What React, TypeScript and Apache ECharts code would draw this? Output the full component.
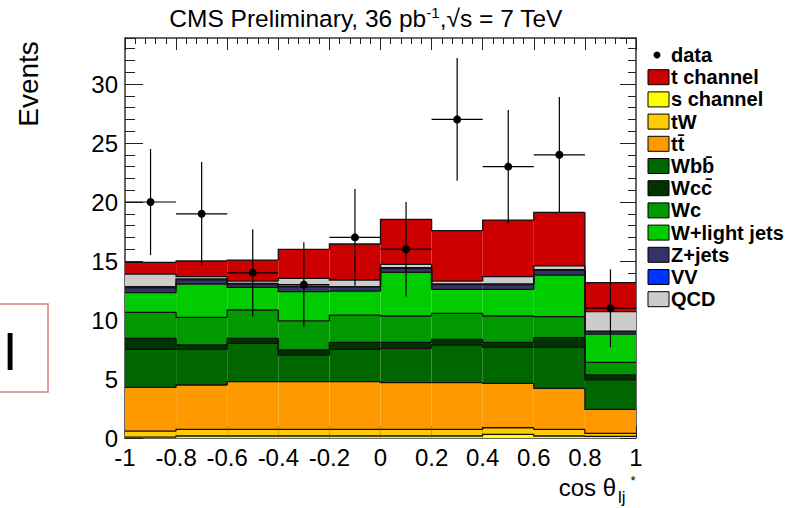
import React, { useEffect, useRef } from 'react';
import * as echarts from 'echarts';

// ---- data ----
const binEdges = [-1, -0.8, -0.6, -0.4, -0.2, 0, 0.2, 0.4, 0.6, 0.8, 1];
const dataValues = [20, 19, 14, 13, 17, 16, 27, 23, 24, 11];
const dataErrors = [4.5, 4.4, 3.7, 3.6, 4.1, 4.0, 5.2, 4.8, 4.9, 3.3];

// stack order: bottom to top
const sChannel = [0.08, 0.17, 0.17, 0.17, 0.17, 0.17, 0.17, 0.3, 0.17, 0.13];
const tW = [0.51, 0.56, 0.56, 0.56, 0.56, 0.56, 0.56, 0.57, 0.56, 0.27];
const ttbar = [3.7, 3.76, 4.04, 4.04, 4.04, 3.96, 3.96, 3.76, 3.48, 2.03];
const wbb = [3.22, 3.02, 3.25, 2.26, 2.74, 2.91, 3.19, 3.05, 3.47, 2.49];
const wcc = [0.94, 0.37, 0.43, 0.43, 0.6, 0.51, 0.48, 0.43, 0.82, 0.42];
const wc = [2.2, 2.35, 2.4, 2.46, 2.31, 2.23, 2.2, 2.23, 1.78, 1.07];
const wLight = [1.67, 2.82, 1.92, 2.48, 2.02, 3.7, 2.04, 2.26, 3.53, 2.4];
const zJets = [0.4, 0.35, 0.28, 0.42, 0.34, 0.34, 0.4, 0.4, 0.4, 0.2];
const vv = [0.1, 0.08, 0.05, 0.05, 0.05, 0.05, 0.05, 0.05, 0.05, 0.05];
const qcd = [1.08, 0.19, 0.2, 0.66, 0.56, 0.29, 0.25, 0.62, 0.34, 1.65];
const tChannel = [0.99, 1.33, 1.78, 2.46, 3.05, 3.81, 4.27, 4.8, 4.52, 2.45];

const stackNames = ['s channel', 'tW', 'tt\u0304', 'Wbb\u0304', 'Wcc\u0304', 'Wc', 'W+light jets', 'Z+jets', 'VV', 'QCD', 't channel'];
const stackValues = [sChannel, tW, ttbar, wbb, wcc, wc, wLight, zJets, vv, qcd, tChannel];
const stackColors = ['#ffff00', '#ffcc00', '#ff9900', '#006600', '#003300', '#009900', '#00cc00', '#333366', '#0033ff', '#cccccc', '#cc0000'];

const legendNames = ['data', 't channel', 's channel', 'tW', 'tt\u0304', 'Wbb\u0304', 'Wcc\u0304', 'Wc', 'W+light jets', 'Z+jets', 'VV', 'QCD'];

const FONT = '"Liberation Sans", Arial, Helvetica, sans-serif';

function buildOption() {
  const nb = dataValues.length;
  const cum: number[][] = [];
  let base = new Array(nb).fill(0);
  stackValues.forEach((vals) => {
    const top = vals.map((v, i) => base[i] + v);
    cum.push(top);
    base = top;
  });

  const series: any[] = [];
  stackValues.forEach((vals, k) => {
    const lo = k === 0 ? new Array(nb).fill(0) : cum[k - 1];
    const hi = cum[k];
    const items = hi.map((h, i) => [binEdges[i], binEdges[i + 1], lo[i], h, i === 0 ? h : hi[i - 1]]);
    const color = stackColors[k];
    series.push({
      type: 'custom',
      name: stackNames[k],
      z: 2,
      data: items,
      renderItem: (_p: any, api: any) => {
        const a = api.coord([api.value(0), api.value(3)]);
        const b = api.coord([api.value(1), api.value(2)]);
        return {
          type: 'rect',
          shape: { x: a[0], y: a[1], width: b[0] - a[0], height: b[1] - a[1] },
          style: { fill: color },
        };
      },
    });
    series.push({
      type: 'custom',
      name: stackNames[k] + ' outline',
      z: 3,
      data: items,
      renderItem: (_p: any, api: any) => {
        const a = api.coord([api.value(0), api.value(3)]);
        const b = api.coord([api.value(1), api.value(3)]);
        const pv = api.coord([api.value(0), api.value(4)]);
        return {
          type: 'polyline',
          shape: { points: [[pv[0], pv[1]], [a[0], a[1]], [b[0], b[1]]] },
          style: { stroke: '#111', lineWidth: 1.3, fill: null },
        };
      },
    });
  });

  const dataItems = dataValues.map((v, i) => [
    (binEdges[i] + binEdges[i + 1]) / 2,
    v,
    dataErrors[i],
    (binEdges[i + 1] - binEdges[i]) / 2,
  ]);
  series.push({
    type: 'custom',
    name: 'data',
    z: 5,
    data: dataItems,
    renderItem: (_p: any, api: any) => {
      const x = api.value(0), y = api.value(1), e = api.value(2), hw = api.value(3);
      const c = api.coord([x, y]);
      const l = api.coord([x - hw, y]);
      const r = api.coord([x + hw, y]);
      const t = api.coord([x, y + e]);
      const bt = api.coord([x, y - e]);
      return {
        type: 'group',
        children: [
          { type: 'line', shape: { x1: l[0], y1: l[1], x2: r[0], y2: r[1] }, style: { stroke: '#000', lineWidth: 1.2 } },
          { type: 'line', shape: { x1: t[0], y1: t[1], x2: bt[0], y2: bt[1] }, style: { stroke: '#000', lineWidth: 1.2 } },
          { type: 'circle', shape: { cx: c[0], cy: c[1], r: 4 }, style: { fill: '#000' } },
        ],
      };
    },
  });

  const lineStyle = { color: '#333', width: 1.5 };
  const tickStyle = { color: '#222', width: 1 };
  const xCommon = {
    type: 'value',
    min: -1,
    max: 1,
    interval: 0.2,
    splitLine: { show: false },
    minorSplitLine: { show: false },
    axisLine: { show: true, onZero: false, lineStyle },
    axisTick: { show: true, inside: true, length: 12, lineStyle: tickStyle },
    minorTick: { show: true, splitNumber: 5, length: 6, lineStyle: tickStyle },
  };
  const yCommon = {
    type: 'value',
    min: 0,
    max: 33.9,
    splitLine: { show: false },
    axisLine: { show: true, onZero: false, lineStyle },
  };

  const legendGraphics: any[] = [];
  legendNames.forEach((name, i) => {
    const cy = 55 + i * 22.2;
    if (name === 'data') {
      legendGraphics.push({ type: 'circle', shape: { cx: 657, cy, r: 3.5 }, style: { fill: '#000' } });
    } else {
      const k = stackNames.indexOf(name);
      legendGraphics.push({
        type: 'rect',
        shape: { x: 648, y: cy - 7.5, width: 21, height: 15 },
        style: { fill: stackColors[k], stroke: '#000', lineWidth: 1 },
      });
    }
    legendGraphics.push({
      type: 'text',
      x: 671,
      y: cy,
      style: { text: name, font: `bold 20px ${FONT}`, fill: '#000', verticalAlign: 'middle', align: 'left' },
    });
  });

  return {
    animation: false,
    backgroundColor: '#fff',
    grid: { left: 125, top: 38, width: 511, height: 400 },
    xAxis: [
      {
        ...xCommon,
        position: 'bottom',
        axisLabel: {
          show: true,
          fontSize: 24,
          fontFamily: FONT,
          color: '#000',
          margin: 7,
          formatter: (v: number) => String(Math.round(v * 10) / 10),
        },
      },
      { ...xCommon, position: 'top', axisLabel: { show: false } },
    ],
    yAxis: [
      {
        ...yCommon,
        position: 'left',
        interval: 5,
        axisTick: { show: true, inside: true, length: 18, lineStyle: tickStyle },
        axisLabel: { show: true, fontSize: 24, fontFamily: FONT, color: '#000', margin: 7, showMaxLabel: false },
      },
      {
        ...yCommon,
        position: 'left',
        interval: 1,
        axisLine: { show: false, onZero: false },
        axisTick: { show: true, inside: true, length: 10, lineStyle: tickStyle },
        axisLabel: { show: false },
      },
      {
        ...yCommon,
        position: 'right',
        interval: 5,
        axisTick: { show: true, inside: true, length: 16, lineStyle: tickStyle },
        axisLabel: { show: false },
      },
      {
        ...yCommon,
        position: 'right',
        interval: 1,
        axisLine: { show: false, onZero: false },
        axisTick: { show: true, inside: true, length: 8, lineStyle: tickStyle },
        axisLabel: { show: false },
      },
    ],
    series,
    graphic: [
      {
        type: 'text',
        x: 366,
        y: 18,
        style: {
          text: '{n|CMS Preliminary, 36 pb}{s|-1}{n|,\u221As = 7 TeV}',
          align: 'center',
          verticalAlign: 'middle',
          rich: {
            n: { fontSize: 24.5, fontFamily: FONT, fill: '#000', lineHeight: 26 },
            s: { fontSize: 15, fontFamily: FONT, fill: '#000', verticalAlign: 'top', lineHeight: 15 },
          },
        },
      },
      {
        type: 'text',
        x: 28,
        y: 84,
        rotation: Math.PI / 2,
        style: { text: 'Events', font: `28px ${FONT}`, fill: '#000', align: 'center', verticalAlign: 'middle' },
      },
      {
        type: 'text',
        x: 616,
        y: 487,
        style: { text: 'cos \u03B8', font: `24px ${FONT}`, fill: '#000', align: 'right', verticalAlign: 'middle' },
      },
      {
        type: 'text',
        x: 618,
        y: 497,
        style: { text: 'lj', font: `17px ${FONT}`, fill: '#000', align: 'left', verticalAlign: 'middle' },
      },
      {
        type: 'text',
        x: 633,
        y: 480,
        style: { text: '*', font: `13px ${FONT}`, fill: '#000', align: 'center', verticalAlign: 'middle' },
      },
      {
        type: 'rect',
        shape: { x: -1, y: 304, width: 49, height: 88 },
        style: { fill: 'none', stroke: '#d98080', lineWidth: 1.5 },
      },
      {
        type: 'text',
        x: 10,
        y: 351,
        style: { text: 'I', font: `53px ${FONT}`, fill: '#000', align: 'center', verticalAlign: 'middle' },
      },
      ...legendGraphics,
    ],
  };
}

export default function App() {
  const ref = useRef<HTMLDivElement>(null);
  useEffect(() => {
    if (!ref.current) return;
    const chart = echarts.init(ref.current, undefined, { renderer: 'svg' });
    chart.setOption(buildOption() as any);
    return () => chart.dispose();
  }, []);
  return (
    <div
      ref={ref}
      style={{ position: 'absolute', left: 0, top: 0, width: 794, height: 508, background: '#fff' }}
    />
  );
}
